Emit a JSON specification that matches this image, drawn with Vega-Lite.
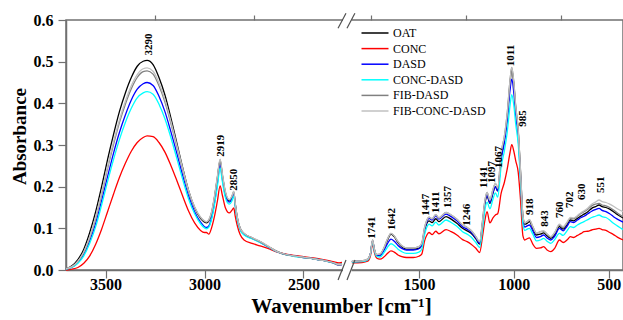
{
  "$schema": "https://vega.github.io/schema/vega-lite/v6.json",
  "width": 557,
  "height": 250,
  "autosize": {"type": "none"},
  "padding": {"left": 66, "top": 20, "right": 0, "bottom": 50},
  "background": "white",
  "config": {
    "font": "Liberation Serif",
    "view": {"stroke": "#707070", "strokeWidth": 1.5},
    "axis": {
      "domainColor": "#707070", "domainWidth": 1.5, "tickColor": "#707070", "tickWidth": 1.2,
      "labelFont": "Liberation Serif", "labelFontSize": 16, "labelFontWeight": "bold", "labelColor": "#000000",
      "titleFont": "Liberation Serif", "titleFontWeight": "bold", "titleColor": "#000000",
      "grid": false, "labelOverlap": false, "labelFlush": false
    }
  },
  "resolve": {"axis": {"x": "independent", "y": "independent"}},
  "datasets": {
    "spectra": [
      {"w":3700,"p":"L","OAT":0.003,"CONC":0.000,"DASD":0.002,"CONC-DASD":0.002,"FIB-DASD":0.003,"FIB-CONC-DASD":0.003},
      {"w":3670,"p":"L","OAT":0.010,"CONC":0.002,"DASD":0.007,"CONC-DASD":0.006,"FIB-DASD":0.008,"FIB-CONC-DASD":0.008},
      {"w":3640,"p":"L","OAT":0.025,"CONC":0.006,"DASD":0.018,"CONC-DASD":0.016,"FIB-DASD":0.020,"FIB-CONC-DASD":0.021},
      {"w":3610,"p":"L","OAT":0.050,"CONC":0.016,"DASD":0.038,"CONC-DASD":0.034,"FIB-DASD":0.042,"FIB-CONC-DASD":0.044},
      {"w":3580,"p":"L","OAT":0.090,"CONC":0.034,"DASD":0.070,"CONC-DASD":0.064,"FIB-DASD":0.077,"FIB-CONC-DASD":0.080},
      {"w":3550,"p":"L","OAT":0.140,"CONC":0.062,"DASD":0.112,"CONC-DASD":0.104,"FIB-DASD":0.123,"FIB-CONC-DASD":0.127},
      {"w":3520,"p":"L","OAT":0.200,"CONC":0.098,"DASD":0.166,"CONC-DASD":0.156,"FIB-DASD":0.180,"FIB-CONC-DASD":0.185},
      {"w":3490,"p":"L","OAT":0.265,"CONC":0.140,"DASD":0.224,"CONC-DASD":0.212,"FIB-DASD":0.243,"FIB-CONC-DASD":0.248},
      {"w":3460,"p":"L","OAT":0.325,"CONC":0.182,"DASD":0.280,"CONC-DASD":0.265,"FIB-DASD":0.301,"FIB-CONC-DASD":0.307},
      {"w":3430,"p":"L","OAT":0.380,"CONC":0.222,"DASD":0.330,"CONC-DASD":0.313,"FIB-DASD":0.354,"FIB-CONC-DASD":0.360},
      {"w":3400,"p":"L","OAT":0.425,"CONC":0.256,"DASD":0.372,"CONC-DASD":0.354,"FIB-DASD":0.398,"FIB-CONC-DASD":0.405},
      {"w":3370,"p":"L","OAT":0.462,"CONC":0.285,"DASD":0.408,"CONC-DASD":0.388,"FIB-DASD":0.435,"FIB-CONC-DASD":0.442},
      {"w":3340,"p":"L","OAT":0.489,"CONC":0.306,"DASD":0.434,"CONC-DASD":0.413,"FIB-DASD":0.462,"FIB-CONC-DASD":0.469},
      {"w":3310,"p":"L","OAT":0.501,"CONC":0.318,"DASD":0.447,"CONC-DASD":0.425,"FIB-DASD":0.476,"FIB-CONC-DASD":0.483},
      {"w":3290,"p":"L","OAT":0.503,"CONC":0.322,"DASD":0.450,"CONC-DASD":0.428,"FIB-DASD":0.478,"FIB-CONC-DASD":0.485},
      {"w":3260,"p":"L","OAT":0.493,"CONC":0.320,"DASD":0.443,"CONC-DASD":0.422,"FIB-DASD":0.470,"FIB-CONC-DASD":0.477},
      {"w":3230,"p":"L","OAT":0.462,"CONC":0.306,"DASD":0.417,"CONC-DASD":0.398,"FIB-DASD":0.442,"FIB-CONC-DASD":0.449},
      {"w":3200,"p":"L","OAT":0.420,"CONC":0.283,"DASD":0.380,"CONC-DASD":0.363,"FIB-DASD":0.403,"FIB-CONC-DASD":0.409},
      {"w":3170,"p":"L","OAT":0.365,"CONC":0.251,"DASD":0.332,"CONC-DASD":0.318,"FIB-DASD":0.352,"FIB-CONC-DASD":0.357},
      {"w":3140,"p":"L","OAT":0.305,"CONC":0.215,"DASD":0.280,"CONC-DASD":0.268,"FIB-DASD":0.296,"FIB-CONC-DASD":0.300},
      {"w":3110,"p":"L","OAT":0.245,"CONC":0.177,"DASD":0.226,"CONC-DASD":0.217,"FIB-DASD":0.240,"FIB-CONC-DASD":0.243},
      {"w":3080,"p":"L","OAT":0.190,"CONC":0.141,"DASD":0.177,"CONC-DASD":0.170,"FIB-DASD":0.188,"FIB-CONC-DASD":0.190},
      {"w":3050,"p":"L","OAT":0.150,"CONC":0.113,"DASD":0.140,"CONC-DASD":0.135,"FIB-DASD":0.150,"FIB-CONC-DASD":0.152},
      {"w":3020,"p":"L","OAT":0.124,"CONC":0.095,"DASD":0.115,"CONC-DASD":0.111,"FIB-DASD":0.126,"FIB-CONC-DASD":0.127},
      {"w":3000,"p":"L","OAT":0.115,"CONC":0.090,"DASD":0.104,"CONC-DASD":0.101,"FIB-DASD":0.117,"FIB-CONC-DASD":0.118},
      {"w":2990,"p":"L","OAT":0.113,"CONC":0.090,"DASD":0.102,"CONC-DASD":0.099,"FIB-DASD":0.115,"FIB-CONC-DASD":0.116},
      {"w":2978,"p":"L","OAT":0.118,"CONC":0.086,"DASD":0.106,"CONC-DASD":0.103,"FIB-DASD":0.120,"FIB-CONC-DASD":0.121},
      {"w":2965,"p":"L","OAT":0.135,"CONC":0.100,"DASD":0.124,"CONC-DASD":0.120,"FIB-DASD":0.137,"FIB-CONC-DASD":0.138},
      {"w":2950,"p":"L","OAT":0.172,"CONC":0.128,"DASD":0.160,"CONC-DASD":0.155,"FIB-DASD":0.174,"FIB-CONC-DASD":0.176},
      {"w":2935,"p":"L","OAT":0.220,"CONC":0.165,"DASD":0.208,"CONC-DASD":0.200,"FIB-DASD":0.222,"FIB-CONC-DASD":0.225},
      {"w":2921,"p":"L","OAT":0.262,"CONC":0.202,"DASD":0.253,"CONC-DASD":0.245,"FIB-DASD":0.265,"FIB-CONC-DASD":0.266},
      {"w":2910,"p":"L","OAT":0.228,"CONC":0.180,"DASD":0.220,"CONC-DASD":0.213,"FIB-DASD":0.230,"FIB-CONC-DASD":0.232},
      {"w":2895,"p":"L","OAT":0.186,"CONC":0.150,"DASD":0.180,"CONC-DASD":0.175,"FIB-DASD":0.188,"FIB-CONC-DASD":0.190},
      {"w":2875,"p":"L","OAT":0.166,"CONC":0.137,"DASD":0.163,"CONC-DASD":0.158,"FIB-DASD":0.168,"FIB-CONC-DASD":0.169},
      {"w":2862,"p":"L","OAT":0.174,"CONC":0.143,"DASD":0.170,"CONC-DASD":0.165,"FIB-DASD":0.176,"FIB-CONC-DASD":0.177},
      {"w":2852,"p":"L","OAT":0.186,"CONC":0.149,"DASD":0.183,"CONC-DASD":0.178,"FIB-DASD":0.188,"FIB-CONC-DASD":0.189},
      {"w":2845,"p":"L","OAT":0.160,"CONC":0.130,"DASD":0.157,"CONC-DASD":0.153,"FIB-DASD":0.161,"FIB-CONC-DASD":0.162},
      {"w":2835,"p":"L","OAT":0.127,"CONC":0.108,"DASD":0.125,"CONC-DASD":0.122,"FIB-DASD":0.128,"FIB-CONC-DASD":0.129},
      {"w":2820,"p":"L","OAT":0.100,"CONC":0.085,"DASD":0.098,"CONC-DASD":0.096,"FIB-DASD":0.100,"FIB-CONC-DASD":0.101},
      {"w":2800,"p":"L","OAT":0.087,"CONC":0.072,"DASD":0.086,"CONC-DASD":0.084,"FIB-DASD":0.088,"FIB-CONC-DASD":0.088},
      {"w":2760,"p":"L","OAT":0.077,"CONC":0.064,"DASD":0.076,"CONC-DASD":0.075,"FIB-DASD":0.077,"FIB-CONC-DASD":0.078},
      {"w":2720,"p":"L","OAT":0.068,"CONC":0.058,"DASD":0.067,"CONC-DASD":0.066,"FIB-DASD":0.068,"FIB-CONC-DASD":0.069},
      {"w":2680,"p":"L","OAT":0.057,"CONC":0.052,"DASD":0.056,"CONC-DASD":0.056,"FIB-DASD":0.057,"FIB-CONC-DASD":0.058},
      {"w":2640,"p":"L","OAT":0.046,"CONC":0.044,"DASD":0.045,"CONC-DASD":0.045,"FIB-DASD":0.046,"FIB-CONC-DASD":0.046},
      {"w":2600,"p":"L","OAT":0.039,"CONC":0.039,"DASD":0.038,"CONC-DASD":0.038,"FIB-DASD":0.038,"FIB-CONC-DASD":0.039},
      {"w":2550,"p":"L","OAT":0.034,"CONC":0.035,"DASD":0.034,"CONC-DASD":0.033,"FIB-DASD":0.034,"FIB-CONC-DASD":0.034},
      {"w":2500,"p":"L","OAT":0.031,"CONC":0.032,"DASD":0.030,"CONC-DASD":0.030,"FIB-DASD":0.030,"FIB-CONC-DASD":0.031},
      {"w":2450,"p":"L","OAT":0.027,"CONC":0.029,"DASD":0.027,"CONC-DASD":0.027,"FIB-DASD":0.027,"FIB-CONC-DASD":0.027},
      {"w":2400,"p":"L","OAT":0.023,"CONC":0.025,"DASD":0.023,"CONC-DASD":0.023,"FIB-DASD":0.023,"FIB-CONC-DASD":0.023},
      {"w":2350,"p":"L","OAT":0.018,"CONC":0.020,"DASD":0.017,"CONC-DASD":0.017,"FIB-DASD":0.017,"FIB-CONC-DASD":0.018},
      {"w":2320,"p":"L","OAT":0.013,"CONC":0.017,"DASD":0.012,"CONC-DASD":0.013,"FIB-DASD":0.012,"FIB-CONC-DASD":0.013},
      {"w":2305,"p":"L","OAT":0.014,"CONC":0.018,"DASD":0.013,"CONC-DASD":0.014,"FIB-DASD":0.013,"FIB-CONC-DASD":0.014},
      {"w":1853,"p":"R","OAT":0.020,"CONC":0.017,"DASD":0.020,"CONC-DASD":0.019,"FIB-DASD":0.021,"FIB-CONC-DASD":0.021},
      {"w":1800,"p":"R","OAT":0.021,"CONC":0.018,"DASD":0.021,"CONC-DASD":0.020,"FIB-DASD":0.022,"FIB-CONC-DASD":0.022},
      {"w":1770,"p":"R","OAT":0.025,"CONC":0.021,"DASD":0.025,"CONC-DASD":0.024,"FIB-DASD":0.026,"FIB-CONC-DASD":0.026},
      {"w":1755,"p":"R","OAT":0.040,"CONC":0.034,"DASD":0.039,"CONC-DASD":0.038,"FIB-DASD":0.040,"FIB-CONC-DASD":0.040},
      {"w":1744,"p":"R","OAT":0.070,"CONC":0.063,"DASD":0.070,"CONC-DASD":0.068,"FIB-DASD":0.072,"FIB-CONC-DASD":0.072},
      {"w":1735,"p":"R","OAT":0.050,"CONC":0.043,"DASD":0.049,"CONC-DASD":0.047,"FIB-DASD":0.051,"FIB-CONC-DASD":0.051},
      {"w":1723,"p":"R","OAT":0.036,"CONC":0.029,"DASD":0.035,"CONC-DASD":0.033,"FIB-DASD":0.037,"FIB-CONC-DASD":0.037},
      {"w":1705,"p":"R","OAT":0.037,"CONC":0.026,"DASD":0.034,"CONC-DASD":0.031,"FIB-DASD":0.038,"FIB-CONC-DASD":0.038},
      {"w":1685,"p":"R","OAT":0.050,"CONC":0.031,"DASD":0.046,"CONC-DASD":0.041,"FIB-DASD":0.052,"FIB-CONC-DASD":0.052},
      {"w":1665,"p":"R","OAT":0.072,"CONC":0.040,"DASD":0.064,"CONC-DASD":0.055,"FIB-DASD":0.075,"FIB-CONC-DASD":0.075},
      {"w":1647,"p":"R","OAT":0.086,"CONC":0.046,"DASD":0.074,"CONC-DASD":0.063,"FIB-DASD":0.088,"FIB-CONC-DASD":0.088},
      {"w":1630,"p":"R","OAT":0.080,"CONC":0.043,"DASD":0.069,"CONC-DASD":0.059,"FIB-DASD":0.082,"FIB-CONC-DASD":0.082},
      {"w":1610,"p":"R","OAT":0.066,"CONC":0.036,"DASD":0.059,"CONC-DASD":0.050,"FIB-DASD":0.068,"FIB-CONC-DASD":0.068},
      {"w":1590,"p":"R","OAT":0.056,"CONC":0.032,"DASD":0.052,"CONC-DASD":0.044,"FIB-DASD":0.058,"FIB-CONC-DASD":0.058},
      {"w":1565,"p":"R","OAT":0.050,"CONC":0.030,"DASD":0.048,"CONC-DASD":0.040,"FIB-DASD":0.053,"FIB-CONC-DASD":0.053},
      {"w":1530,"p":"R","OAT":0.050,"CONC":0.030,"DASD":0.048,"CONC-DASD":0.040,"FIB-DASD":0.053,"FIB-CONC-DASD":0.053},
      {"w":1500,"p":"R","OAT":0.052,"CONC":0.033,"DASD":0.051,"CONC-DASD":0.043,"FIB-DASD":0.056,"FIB-CONC-DASD":0.056},
      {"w":1485,"p":"R","OAT":0.060,"CONC":0.038,"DASD":0.060,"CONC-DASD":0.050,"FIB-DASD":0.064,"FIB-CONC-DASD":0.064},
      {"w":1470,"p":"R","OAT":0.095,"CONC":0.070,"DASD":0.098,"CONC-DASD":0.085,"FIB-DASD":0.102,"FIB-CONC-DASD":0.102},
      {"w":1458,"p":"R","OAT":0.112,"CONC":0.084,"DASD":0.116,"CONC-DASD":0.103,"FIB-DASD":0.120,"FIB-CONC-DASD":0.120},
      {"w":1447,"p":"R","OAT":0.118,"CONC":0.090,"DASD":0.124,"CONC-DASD":0.110,"FIB-DASD":0.127,"FIB-CONC-DASD":0.127},
      {"w":1430,"p":"R","OAT":0.114,"CONC":0.085,"DASD":0.120,"CONC-DASD":0.106,"FIB-DASD":0.123,"FIB-CONC-DASD":0.123},
      {"w":1411,"p":"R","OAT":0.123,"CONC":0.093,"DASD":0.130,"CONC-DASD":0.115,"FIB-DASD":0.133,"FIB-CONC-DASD":0.133},
      {"w":1395,"p":"R","OAT":0.116,"CONC":0.087,"DASD":0.122,"CONC-DASD":0.108,"FIB-DASD":0.125,"FIB-CONC-DASD":0.125},
      {"w":1357,"p":"R","OAT":0.128,"CONC":0.097,"DASD":0.134,"CONC-DASD":0.120,"FIB-DASD":0.138,"FIB-CONC-DASD":0.138},
      {"w":1330,"p":"R","OAT":0.122,"CONC":0.092,"DASD":0.128,"CONC-DASD":0.114,"FIB-DASD":0.132,"FIB-CONC-DASD":0.132},
      {"w":1300,"p":"R","OAT":0.112,"CONC":0.084,"DASD":0.118,"CONC-DASD":0.105,"FIB-DASD":0.122,"FIB-CONC-DASD":0.122},
      {"w":1270,"p":"R","OAT":0.100,"CONC":0.073,"DASD":0.104,"CONC-DASD":0.092,"FIB-DASD":0.108,"FIB-CONC-DASD":0.108},
      {"w":1246,"p":"R","OAT":0.094,"CONC":0.068,"DASD":0.098,"CONC-DASD":0.086,"FIB-DASD":0.102,"FIB-CONC-DASD":0.102},
      {"w":1225,"p":"R","OAT":0.088,"CONC":0.062,"DASD":0.091,"CONC-DASD":0.079,"FIB-DASD":0.095,"FIB-CONC-DASD":0.095},
      {"w":1200,"p":"R","OAT":0.075,"CONC":0.052,"DASD":0.077,"CONC-DASD":0.066,"FIB-DASD":0.080,"FIB-CONC-DASD":0.080},
      {"w":1180,"p":"R","OAT":0.062,"CONC":0.042,"DASD":0.064,"CONC-DASD":0.054,"FIB-DASD":0.068,"FIB-CONC-DASD":0.068},
      {"w":1165,"p":"R","OAT":0.110,"CONC":0.080,"DASD":0.112,"CONC-DASD":0.098,"FIB-DASD":0.118,"FIB-CONC-DASD":0.118},
      {"w":1152,"p":"R","OAT":0.160,"CONC":0.120,"DASD":0.162,"CONC-DASD":0.145,"FIB-DASD":0.168,"FIB-CONC-DASD":0.168},
      {"w":1141,"p":"R","OAT":0.178,"CONC":0.140,"DASD":0.180,"CONC-DASD":0.163,"FIB-DASD":0.186,"FIB-CONC-DASD":0.186},
      {"w":1126,"p":"R","OAT":0.160,"CONC":0.113,"DASD":0.162,"CONC-DASD":0.147,"FIB-DASD":0.168,"FIB-CONC-DASD":0.168},
      {"w":1110,"p":"R","OAT":0.185,"CONC":0.125,"DASD":0.186,"CONC-DASD":0.170,"FIB-DASD":0.193,"FIB-CONC-DASD":0.193},
      {"w":1097,"p":"R","OAT":0.200,"CONC":0.132,"DASD":0.200,"CONC-DASD":0.185,"FIB-DASD":0.208,"FIB-CONC-DASD":0.208},
      {"w":1085,"p":"R","OAT":0.190,"CONC":0.135,"DASD":0.190,"CONC-DASD":0.175,"FIB-DASD":0.197,"FIB-CONC-DASD":0.197},
      {"w":1067,"p":"R","OAT":0.270,"CONC":0.184,"DASD":0.265,"CONC-DASD":0.248,"FIB-DASD":0.281,"FIB-CONC-DASD":0.281},
      {"w":1050,"p":"R","OAT":0.312,"CONC":0.210,"DASD":0.305,"CONC-DASD":0.285,"FIB-DASD":0.320,"FIB-CONC-DASD":0.320},
      {"w":1035,"p":"R","OAT":0.366,"CONC":0.242,"DASD":0.357,"CONC-DASD":0.330,"FIB-DASD":0.375,"FIB-CONC-DASD":0.375},
      {"w":1020,"p":"R","OAT":0.448,"CONC":0.282,"DASD":0.432,"CONC-DASD":0.395,"FIB-DASD":0.455,"FIB-CONC-DASD":0.455},
      {"w":1011,"p":"R","OAT":0.481,"CONC":0.301,"DASD":0.458,"CONC-DASD":0.421,"FIB-DASD":0.486,"FIB-CONC-DASD":0.486},
      {"w":1000,"p":"R","OAT":0.445,"CONC":0.285,"DASD":0.425,"CONC-DASD":0.395,"FIB-DASD":0.450,"FIB-CONC-DASD":0.450},
      {"w":990,"p":"R","OAT":0.388,"CONC":0.262,"DASD":0.372,"CONC-DASD":0.350,"FIB-DASD":0.393,"FIB-CONC-DASD":0.393},
      {"w":977,"p":"R","OAT":0.332,"CONC":0.235,"DASD":0.318,"CONC-DASD":0.303,"FIB-DASD":0.337,"FIB-CONC-DASD":0.337},
      {"w":965,"p":"R","OAT":0.236,"CONC":0.170,"DASD":0.225,"CONC-DASD":0.215,"FIB-DASD":0.240,"FIB-CONC-DASD":0.240},
      {"w":952,"p":"R","OAT":0.127,"CONC":0.082,"DASD":0.119,"CONC-DASD":0.110,"FIB-DASD":0.130,"FIB-CONC-DASD":0.130},
      {"w":942,"p":"R","OAT":0.110,"CONC":0.072,"DASD":0.103,"CONC-DASD":0.095,"FIB-DASD":0.113,"FIB-CONC-DASD":0.113},
      {"w":930,"p":"R","OAT":0.112,"CONC":0.075,"DASD":0.106,"CONC-DASD":0.098,"FIB-DASD":0.116,"FIB-CONC-DASD":0.116},
      {"w":918,"p":"R","OAT":0.116,"CONC":0.077,"DASD":0.108,"CONC-DASD":0.100,"FIB-DASD":0.120,"FIB-CONC-DASD":0.121},
      {"w":900,"p":"R","OAT":0.100,"CONC":0.062,"DASD":0.094,"CONC-DASD":0.086,"FIB-DASD":0.104,"FIB-CONC-DASD":0.104},
      {"w":881,"p":"R","OAT":0.084,"CONC":0.052,"DASD":0.078,"CONC-DASD":0.070,"FIB-DASD":0.088,"FIB-CONC-DASD":0.088},
      {"w":860,"p":"R","OAT":0.086,"CONC":0.053,"DASD":0.080,"CONC-DASD":0.072,"FIB-DASD":0.092,"FIB-CONC-DASD":0.092},
      {"w":843,"p":"R","OAT":0.089,"CONC":0.056,"DASD":0.084,"CONC-DASD":0.076,"FIB-DASD":0.093,"FIB-CONC-DASD":0.094},
      {"w":825,"p":"R","OAT":0.082,"CONC":0.048,"DASD":0.077,"CONC-DASD":0.069,"FIB-DASD":0.086,"FIB-CONC-DASD":0.087},
      {"w":805,"p":"R","OAT":0.076,"CONC":0.044,"DASD":0.072,"CONC-DASD":0.064,"FIB-DASD":0.079,"FIB-CONC-DASD":0.080},
      {"w":785,"p":"R","OAT":0.085,"CONC":0.052,"DASD":0.081,"CONC-DASD":0.073,"FIB-DASD":0.089,"FIB-CONC-DASD":0.090},
      {"w":760,"p":"R","OAT":0.104,"CONC":0.072,"DASD":0.100,"CONC-DASD":0.088,"FIB-DASD":0.108,"FIB-CONC-DASD":0.110},
      {"w":740,"p":"R","OAT":0.098,"CONC":0.066,"DASD":0.094,"CONC-DASD":0.083,"FIB-DASD":0.102,"FIB-CONC-DASD":0.104},
      {"w":720,"p":"R","OAT":0.108,"CONC":0.072,"DASD":0.105,"CONC-DASD":0.094,"FIB-DASD":0.113,"FIB-CONC-DASD":0.115},
      {"w":702,"p":"R","OAT":0.120,"CONC":0.080,"DASD":0.116,"CONC-DASD":0.104,"FIB-DASD":0.124,"FIB-CONC-DASD":0.126},
      {"w":685,"p":"R","OAT":0.118,"CONC":0.078,"DASD":0.114,"CONC-DASD":0.102,"FIB-DASD":0.123,"FIB-CONC-DASD":0.125},
      {"w":665,"p":"R","OAT":0.124,"CONC":0.083,"DASD":0.120,"CONC-DASD":0.108,"FIB-DASD":0.129,"FIB-CONC-DASD":0.131},
      {"w":645,"p":"R","OAT":0.130,"CONC":0.088,"DASD":0.126,"CONC-DASD":0.113,"FIB-DASD":0.136,"FIB-CONC-DASD":0.138},
      {"w":630,"p":"R","OAT":0.134,"CONC":0.092,"DASD":0.129,"CONC-DASD":0.116,"FIB-DASD":0.140,"FIB-CONC-DASD":0.142},
      {"w":610,"p":"R","OAT":0.140,"CONC":0.093,"DASD":0.135,"CONC-DASD":0.121,"FIB-DASD":0.146,"FIB-CONC-DASD":0.149},
      {"w":590,"p":"R","OAT":0.148,"CONC":0.096,"DASD":0.141,"CONC-DASD":0.126,"FIB-DASD":0.154,"FIB-CONC-DASD":0.158},
      {"w":570,"p":"R","OAT":0.152,"CONC":0.098,"DASD":0.145,"CONC-DASD":0.129,"FIB-DASD":0.158,"FIB-CONC-DASD":0.163},
      {"w":551,"p":"R","OAT":0.156,"CONC":0.100,"DASD":0.148,"CONC-DASD":0.132,"FIB-DASD":0.160,"FIB-CONC-DASD":0.168},
      {"w":535,"p":"R","OAT":0.152,"CONC":0.097,"DASD":0.143,"CONC-DASD":0.128,"FIB-DASD":0.156,"FIB-CONC-DASD":0.164},
      {"w":515,"p":"R","OAT":0.150,"CONC":0.095,"DASD":0.140,"CONC-DASD":0.126,"FIB-DASD":0.154,"FIB-CONC-DASD":0.162},
      {"w":495,"p":"R","OAT":0.146,"CONC":0.090,"DASD":0.135,"CONC-DASD":0.120,"FIB-DASD":0.150,"FIB-CONC-DASD":0.158},
      {"w":475,"p":"R","OAT":0.140,"CONC":0.085,"DASD":0.128,"CONC-DASD":0.112,"FIB-DASD":0.144,"FIB-CONC-DASD":0.153},
      {"w":455,"p":"R","OAT":0.133,"CONC":0.079,"DASD":0.122,"CONC-DASD":0.106,"FIB-DASD":0.137,"FIB-CONC-DASD":0.147},
      {"w":425,"p":"R","OAT":0.125,"CONC":0.072,"DASD":0.115,"CONC-DASD":0.097,"FIB-DASD":0.128,"FIB-CONC-DASD":0.140}
    ],
    "peaks": [
      {"t":"3290","w":3280,"a":0.515},
      {"t":"2919","w":2916,"a":0.272},
      {"t":"2850","w":2850,"a":0.190},
      {"t":"1741","w":1745,"a":0.075},
      {"t":"1642","w":1642,"a":0.096},
      {"t":"1447","w":1463,"a":0.130},
      {"t":"1411","w":1410,"a":0.137},
      {"t":"1357","w":1347,"a":0.149},
      {"t":"1246","w":1247,"a":0.106},
      {"t":"1141","w":1158,"a":0.197},
      {"t":"1097","w":1116,"a":0.209},
      {"t":"1067","w":1079,"a":0.245},
      {"t":"1011","w":1016,"a":0.489},
      {"t":"985","w":953,"a":0.344},
      {"t":"918","w":916,"a":0.132},
      {"t":"843","w":837,"a":0.104},
      {"t":"760","w":758,"a":0.125},
      {"t":"702","w":705,"a":0.149},
      {"t":"630","w":642,"a":0.168},
      {"t":"551","w":542,"a":0.185}
    ],
    "gaps": [
      {"x1":2300,"x2":1855,"y1":-0.005,"y2":0.005},
      {"x1":2300,"x2":1855,"y1":0.595,"y2":0.605}
    ],
    "slashes": [
      {"x1":2325,"x2":2143,"y1":-0.024,"y2":0.024},
      {"x1":2091,"x2":1837,"y1":-0.024,"y2":0.024},
      {"x1":2325,"x2":2143,"y1":0.580,"y2":0.616},
      {"x1":2091,"x2":1837,"y1":0.580,"y2":0.616}
    ]
  },
  "layer": [
    {
      "data": {"name": "spectra"},
      "transform": [{"fold": ["OAT","CONC","DASD","CONC-DASD","FIB-DASD","FIB-CONC-DASD"], "as": ["s","a"]}],
      "mark": {"type": "line", "strokeWidth": 1.3, "interpolate": "monotone"},
      "encoding": {
        "x": {"field": "w", "type": "quantitative",
          "scale": {"domain": [3700,2300,1855,425], "range": [0,277,285.5,557], "zero": false, "nice": false},
          "axis": {"values": [3500,3000,2500,1500,1000,500], "format": "d", "tickSize": 8,
            "labelPadding": -2,
            "title": "Wavenumber [cm⁻¹]", "titleFontSize": 21, "titleX": 275, "titleY": 42, "titleAlign": "center", "titleBaseline": "alphabetic"}},
        "y": {"field": "a", "type": "quantitative",
          "scale": {"domain": [0,0.6], "zero": false, "nice": false},
          "axis": {"values": [0,0.1,0.2,0.3,0.4,0.5,0.6], "format": ".1f", "tickSize": 8,
            "labelPadding": 5,
            "title": "Absorbance", "titleFontSize": 19, "titleX": -47, "titleY": 116, "titleAngle": 270, "titleAlign": "center", "titleBaseline": "middle"}},
        "color": {"field": "s", "type": "nominal",
          "scale": {"domain": ["OAT","CONC","DASD","CONC-DASD","FIB-DASD","FIB-CONC-DASD"], "range": ["#000000","#ff0000","#0000ff","#00ffff","#808080","#c0c0c0"]},
          "legend": {"orient": "none", "legendX": 294, "legendY": 7, "title": null, "symbolType": "M-1,0H5", "symbolSize": 81, "symbolStrokeWidth": 1.5, "labelOffset": 21, "labelFontSize": 12, "labelFont": "Liberation Serif", "labelFontWeight": 400, "labelColor": "#000000", "rowPadding": 3.6, "padding": 0}},
        "detail": {"field": "p"}
      }
    },
    {
      "data": {"name": "gaps"},
      "mark": {"type": "rect", "color": "white"},
      "encoding": {
        "x": {"field": "x1", "type": "quantitative", "scale": {"domain": [3700,2300,1855,425], "range": [0,277,285.5,557], "zero": false, "nice": false},
          "axis": {"values": [3250,2750,1750,1250,750], "tickSize": 5, "labels": false, "domain": false, "title": null}},
        "x2": {"field": "x2"},
        "y": {"field": "y1", "type": "quantitative", "scale": {"domain": [0,0.6], "zero": false, "nice": false},
          "axis": {"values": [0.05,0.15,0.25,0.35,0.45,0.55], "tickSize": 4, "labels": false, "domain": false, "title": null}},
        "y2": {"field": "y2"}
      }
    },
    {
      "data": {"name": "slashes"},
      "mark": {"type": "rule", "color": "#505050", "strokeWidth": 1.2},
      "encoding": {
        "x": {"field": "x1", "type": "quantitative", "scale": {"domain": [3700,2300,1855,425], "range": [0,277,285.5,557], "zero": false, "nice": false}, "axis": null},
        "x2": {"field": "x2"},
        "y": {"field": "y1", "type": "quantitative", "scale": {"domain": [0,0.6], "zero": false, "nice": false}, "axis": null},
        "y2": {"field": "y2"}
      }
    },
    {
      "data": {"name": "peaks"},
      "mark": {"type": "text", "angle": 270, "align": "left", "baseline": "middle", "font": "Liberation Serif", "fontWeight": "bold", "fontSize": 11, "color": "#000000"},
      "encoding": {
        "x": {"field": "w", "type": "quantitative", "scale": {"domain": [3700,2300,1855,425], "range": [0,277,285.5,557], "zero": false, "nice": false}, "axis": null},
        "y": {"field": "a", "type": "quantitative", "scale": {"domain": [0,0.6], "zero": false, "nice": false}, "axis": null},
        "text": {"field": "t"}
      }
    }
  ]
}
